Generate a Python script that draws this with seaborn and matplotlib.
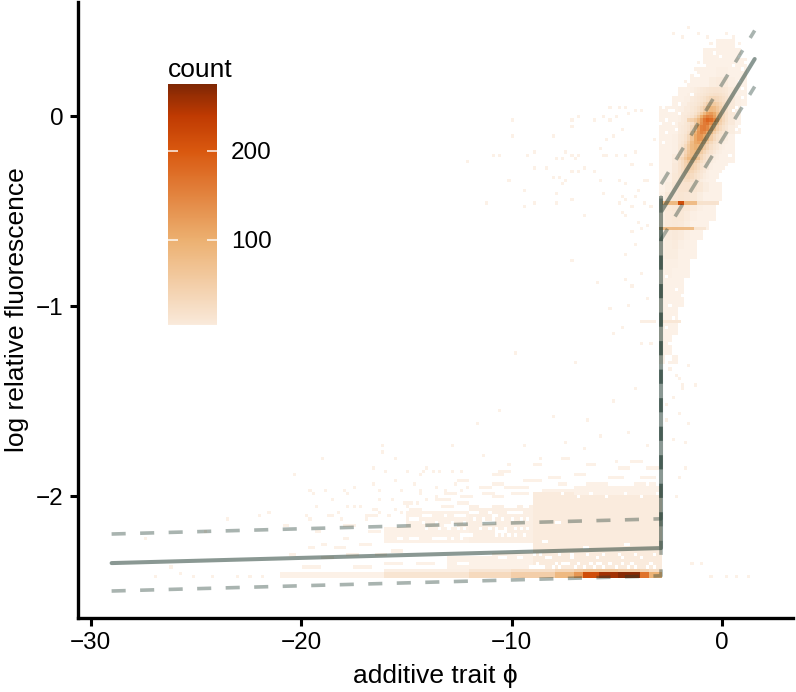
#importing the libraries
import numpy as np
import pandas as pd
import matplotlib
matplotlib.use('Agg')
import matplotlib.pyplot as plt
from matplotlib.colors import LinearSegmentedColormap
import seaborn as sns

#fitted curves
curve_phi = [-29, -2.9, -2.9, -2.9, 1.55]
curve_mid = [-2.353, -2.274, -0.43, -0.505, 0.30]
upper_phi = [-29, -2.9, -2.9, 1.55]
upper_val = [-2.20, -2.12, -0.36, 0.45]
lower_phi = [-29, -2.9, -2.9, 1.55]
lower_val = [-2.50, -2.42, -0.65, 0.155]

#binned counts around the upper arm, one row per logf step (top row first)
lobe_phi = [-3.0, -2.7, -2.4, -2.1, -1.8, -1.5, -1.2, -0.9, -0.6, -0.3, 0.0, 0.3, 0.6, 0.9, 1.2]
lobe_logf = [0.40, 0.35, 0.30, 0.25, 0.20, 0.15, 0.10, 0.05, 0.0, -0.05, -0.10, -0.15, -0.20, -0.25,
             -0.30, -0.35, -0.40, -0.45, -0.50, -0.55, -0.60, -0.65, -0.70, -0.75, -0.80, -0.85,
             -0.90, -0.95, -1.00, -1.05, -1.10, -1.15, -1.20, -1.25, -1.30]
lobe_counts = [
    [0, 0, 0, 0, 0, 0, 0, 0, 0, 1, 1, 1, 0, 0],
    [0, 0, 0, 0, 0, 0, 0, 1, 1, 1, 1, 1, 1, 0],
    [0, 0, 0, 0, 0, 0, 0, 1, 1, 2, 2, 1, 1, 1],
    [0, 0, 0, 0, 0, 0, 1, 1, 2, 3, 3, 2, 2, 1],
    [0, 0, 0, 0, 0, 1, 1, 2, 4, 5, 5, 3, 2, 1],
    [0, 0, 0, 0, 1, 1, 2, 4, 6, 7, 7, 5, 2, 1],
    [0, 0, 1, 1, 1, 2, 4, 7, 10, 12, 10, 6, 3, 1],
    [1, 1, 1, 2, 3, 6, 14, 30, 45, 40, 20, 8, 2, 0],
    [1, 1, 2, 3, 6, 14, 35, 75, 100, 70, 20, 6, 1, 0],
    [1, 1, 2, 4, 10, 30, 70, 120, 110, 60, 14, 4, 1, 0],
    [1, 1, 3, 6, 18, 50, 95, 100, 70, 30, 6, 2, 0, 0],
    [1, 2, 3, 10, 30, 70, 85, 70, 35, 14, 3, 1, 0, 0],
    [1, 2, 5, 15, 40, 65, 55, 35, 18, 6, 2, 1, 0, 0],
    [1, 2, 6, 20, 40, 40, 30, 18, 8, 3, 1, 0, 0, 0],
    [1, 3, 8, 18, 25, 22, 15, 8, 4, 2, 1, 0, 0, 0],
    [2, 4, 10, 15, 15, 12, 8, 4, 2, 1, 0, 0, 0, 0],
    [3, 6, 10, 12, 10, 8, 4, 2, 1, 1, 0, 0, 0, 0],
    [5, 8, 10, 10, 8, 5, 3, 2, 1, 0, 0, 0, 0, 0],
    [4, 6, 8, 8, 5, 3, 2, 1, 1, 0, 0, 0, 0, 0],
    [4, 6, 7, 6, 4, 2, 1, 1, 0, 0, 0, 0, 0, 0],
    [3, 5, 6, 5, 3, 1, 1, 0, 0, 0, 0, 0, 0, 0],
    [3, 4, 5, 3, 2, 1, 0, 0, 0, 0, 0, 0, 0, 0],
    [3, 4, 4, 2, 1, 1, 0, 0, 0, 0, 0, 0, 0, 0],
    [2, 3, 3, 2, 1, 0, 0, 0, 0, 0, 0, 0, 0, 0],
    [2, 3, 2, 1, 1, 0, 0, 0, 0, 0, 0, 0, 0, 0],
    [2, 2, 2, 1, 0, 0, 0, 0, 0, 0, 0, 0, 0, 0],
    [1, 2, 1, 1, 0, 0, 0, 0, 0, 0, 0, 0, 0, 0],
    [1, 1, 1, 1, 0, 0, 0, 0, 0, 0, 0, 0, 0, 0],
    [1, 1, 1, 0, 0, 0, 0, 0, 0, 0, 0, 0, 0, 0],
    [1, 1, 1, 0, 0, 0, 0, 0, 0, 0, 0, 0, 0, 0],
    [1, 1, 1, 0, 0, 0, 0, 0, 0, 0, 0, 0, 0, 0],
    [1, 1, 0, 0, 0, 0, 0, 0, 0, 0, 0, 0, 0, 0],
    [1, 1, 0, 0, 0, 0, 0, 0, 0, 0, 0, 0, 0, 0],
    [1, 0, 1, 0, 0, 0, 0, 0, 0, 0, 0, 0, 0, 0],
]

#finer reading of the hot core of the upper arm
core_phi = [-2.1, -1.95, -1.8, -1.65, -1.5, -1.35, -1.2, -1.05, -0.9, -0.75, -0.6, -0.45, -0.3, -0.15, 0.0, 0.15, 0.3]
core_logf = [0.15, 0.125, 0.10, 0.075, 0.05, 0.025, 0.0, -0.025, -0.05, -0.075, -0.10, -0.125, -0.15, -0.175, -0.20,
             -0.225, -0.25, -0.275, -0.30, -0.325, -0.35]
core_counts = [
    [1, 1, 1, 2, 3, 4, 5, 6, 8, 10, 12, 13, 13, 12, 10, 8],
    [1, 1, 2, 3, 4, 5, 6, 8, 11, 14, 18, 20, 20, 18, 14, 10],
    [1, 2, 3, 3, 5, 6, 9, 12, 18, 26, 34, 36, 32, 26, 20, 14],
    [2, 3, 3, 5, 6, 8, 12, 18, 30, 45, 56, 56, 48, 36, 25, 16],
    [3, 3, 5, 5, 8, 12, 21, 33, 50, 72, 85, 80, 62, 45, 30, 18],
    [3, 5, 5, 6, 10, 18, 33, 56, 85, 115, 125, 108, 78, 52, 32, 20],
    [3, 5, 6, 9, 15, 30, 56, 100, 135, 155, 145, 118, 82, 52, 32, 18],
    [5, 5, 8, 12, 22, 45, 88, 135, 160, 165, 140, 105, 70, 44, 26, 14],
    [5, 6, 9, 15, 33, 66, 120, 155, 160, 145, 112, 76, 46, 30, 18, 10],
    [5, 6, 10, 22, 48, 95, 130, 150, 140, 112, 80, 50, 30, 18, 12, 7],
    [6, 8, 15, 33, 66, 108, 130, 130, 110, 80, 52, 32, 19, 12, 7, 4],
    [6, 10, 21, 45, 80, 108, 115, 102, 80, 54, 33, 19, 12, 7, 4, 3],
    [8, 14, 30, 56, 84, 98, 92, 76, 54, 36, 21, 12, 7, 4, 3, 1],
    [9, 18, 38, 62, 80, 84, 70, 54, 36, 22, 13, 7, 4, 3, 1, 1],
    [12, 22, 45, 70, 76, 66, 52, 36, 22, 13, 7, 4, 3, 1, 1, 1],
    [14, 27, 45, 62, 62, 50, 37, 24, 15, 9, 4, 3, 1, 1, 1, 1],
    [15, 27, 42, 50, 47, 37, 25, 15, 9, 6, 3, 1, 1, 1, 1, 1],
    [15, 24, 36, 42, 36, 27, 18, 10, 6, 3, 1, 1, 1, 1, 0, 0],
    [14, 21, 30, 33, 27, 19, 12, 7, 4, 3, 1, 1, 1, 0, 0, 0],
    [12, 18, 24, 25, 19, 13, 9, 4, 3, 1, 1, 1, 0, 0, 0, 0],
]

#horizontal streaks added on top: logf, phi from, phi to, count
streak_logf = [-0.02, -0.215, -0.465, -0.465, -0.465, -0.585, -0.585, -1.085, -1.085]
streak_lo = [-1.7, -2.1, -2.85, -1.2, -2.05, -2.95, -1.4, -3.9, -2.85]
streak_hi = [-0.2, -1.1, -1.2, -0.2, -1.8, -1.4, -0.8, -3.1, -1.9]
streak_n = [30, 15, 75, 15, 130, 75, 10, 3, 8]

#bands along the floor of the curve
floor_lo = [-21, -16, -12, -10, -8, -7, -6.6, -5.9, -4.9, -3.9, -3.5]
floor_hi = [-16, -12, -10, -8, -7, -6.6, -5.9, -4.9, -3.9, -3.5, -2.85]
floor_n = [2, 12, 30, 50, 85, 130, 215, 255, 270, 170, 95]
floor2_n = [0, 3, 10, 20, 35, 50, 60, 60, 50, 40, 25]

#filled patches in the lower arm: phi from, phi to, logf from, logf to, count
patch_phi_lo = [-9.0, -12.0, -11.0, -14.0, -13.0, -7.0, -16.0, -15.0]
patch_phi_hi = [-2.85, -9.0, -9.0, -12.0, -11.0, -2.85, -14.0, -14.0]
patch_logf_lo = [-2.39, -2.24, -2.39, -2.24, -2.39, -1.99, -2.25, -2.16]
patch_logf_hi = [-1.98, -2.04, -2.30, -2.08, -2.31, -1.95, -2.16, -2.08]
patch_n = [5, 3, 2, 2, 2, 2, 2, 2]

#short runs of occupied cells
run_logf = [-2.38, -2.37, -2.36, -2.35, -2.38, -2.36, -2.33, -2.31, -2.30, -2.29, -2.27, -2.25, -2.23, -2.21,
            -2.19, -2.17, -2.15, -2.13, -2.11, -2.09, -2.07, -2.05, -2.03, -2.01, -1.99, -1.97,
            -2.37, -2.34, -2.31, -2.28, -2.25, -2.22, -2.19, -2.16, -2.13, -2.10, -2.07, -2.04, -1.96, -1.93, -1.88,
            -1.93, -1.93, -1.92, -1.91, -1.90, -1.90, -1.88, -1.87, -1.86, -1.85, -1.84, -1.83, -1.82, -1.80,
            -1.95, -1.96, -1.94, -1.92, -1.99, -2.01, -2.02, -1.97, -1.95, -1.98]
run_lo = [-20.0, -17.5, -16.0, -14.5, -12.5, -10.5, -19.0, -17.8, -16.5, -15.7, -18.5, -17.2, -16.0, -15.0,
          -16.8, -15.4, -18.0, -14.3, -17.0, -15.0, -14.8, -13.4, -12.6, -11.0, -10.0, -8.5,
          -13.0, -11.8, -20.5, -19.6, -19.0, -18.0, -19.3, -20.8, -21.4, -18.7, -16.6, -15.2, -6.2, -7.8, -11.0,
          -6.6, -4.2, -9.4, -5.4, -8.2, -3.9, -7.0, -10.6, -5.0, -3.6, -9.0, -6.4, -4.4, -7.6,
          -9.9, -11.6, -11.0, -12.6, -13.2, -12.4, -13.6, -8.2, -10.4, -11.4]
run_hi = [-19.1, -16.6, -15.1, -13.6, -11.6, -9.6, -18.4, -17.2, -15.9, -15.1, -17.9, -16.6, -15.4, -14.4,
          -16.2, -14.8, -17.4, -13.7, -16.4, -13.8, -14.2, -12.8, -12.0, -10.4, -9.1, -7.6,
          -12.4, -11.2, -20.2, -19.3, -18.7, -17.7, -19.0, -20.5, -21.1, -18.4, -16.3, -14.9, -5.6, -7.2, -10.4,
          -5.4, -3.2, -8.6, -4.6, -7.6, -3.1, -6.4, -10.0, -4.4, -3.0, -8.6, -6.0, -3.8, -7.2,
          -9.1, -11.0, -10.4, -12.0, -12.6, -11.8, -13.0, -7.0, -9.6, -10.8]

#gaps cleared out of the patches
gap_logf = [-2.36, -2.34, -2.33, -2.33, -2.35, -2.37, -2.26, -2.25, -2.22, -2.20, -2.19, -2.15, -2.14, -2.11, -2.09,
            -2.22, -2.20, -2.18, -2.14, -2.12, -2.10, -2.06, -2.05, -2.02, -2.00, -2.06, -2.03, -2.23, -2.11, -2.09,
            -2.32, -2.36, -2.24, -2.18, -2.14, -2.28, -2.26]
gap_lo = [-12.6, -11.8, -10.6, -9.8, -7.6, -9.2, -11.6, -10.2, -13.6, -12.4, -10.8, -13.2, -11.4, -12.8, -10.0,
          -15.6, -15.0, -14.6, -15.4, -14.8, -14.2, -11.6, -10.4, -11.0, -9.6, -9.4, -10.2, -14.8, -11.0, -12.0,
          -8.4, -6.0, -8.6, -7.2, -8.0, -6.6, -4.6]
gap_hi = [-12.0, -11.2, -10.2, -9.4, -7.2, -8.6, -11.0, -9.8, -13.0, -11.8, -10.2, -12.6, -10.8, -12.2, -9.4,
          -15.2, -14.6, -14.2, -15.0, -14.4, -14.0, -11.0, -9.8, -10.6, -9.2, -9.1, -9.8, -14.4, -10.6, -11.6,
          -8.1, -5.7, -8.3, -6.9, -7.7, -6.3, -4.3]

#single occupied cells
speck_phi = [-10.0, -10.0, -8.0, -7.2, -6.8, -7.1, -6.15, -5.7, -5.4, -5.1, -5.4, -4.9, -4.65, -4.2, -3.9, -4.45,
             -4.75, -5.25, -5.55, -3.25, -5.8, -5.7, -5.5, -5.1, -4.65, -4.2, -12.1, -10.9, -10.6, -9.24, -8.94,
             -7.4, -7.1, -6.8, -7.85, -7.55, -6.95, -8.94, -8.3, -7.1, -6.8, -6.6, -6.15, -4.35, -3.4, -10.15,
             -8.0, -7.7, -7.4, -7.55, -5.85, -4.95, -4.65, -3.6, -3.75, -9.4, -7.85, -5.7, -4.0, -4.2, -4.8,
             -4.65, -4.95, -7.1, -11.2, -8.94, -7.85, -9.4, -4.35, -3.75, -3.4, -4.8, -4.65, -6.6, -4.0, -3.6,
             -3.9, -4.35, -4.2, -4.65, -7.2, -3.9, -4.65, -6.0,
             -16.1, -12.9, -16.1, -19.0, -15.5, -20.4, -16.6, -16.0, -14.9, -14.2, -14.0, -13.7, -13.4, -12.85,
             -12.4, -15.5, -16.6, -14.3, -19.65, -19.5, -18.9, -18.0, -17.8, -17.5, -16.3, -15.2, -14.7, -14.3,
             -14.3, -13.55, -13.2, -12.75, -12.45, -12.1, -18.5, -19.3, -17.8, -17.5, -17.2, -16.3, -15.7, -14.8,
             -14.5, -14.0, -13.55, -13.0, -21.95, -21.5, -19.8, -19.65, -18.2, -18.1, -16.9, -16.25, -15.9, -15.6,
             -15.3, -15.0, -14.65, -24.6, -23.5, -26.2, -27.4, -25.8, -20.1, -11.4, -10.2, -9.4, -8.6, -7.4, -6.6,
             -5.8, -5.0, -4.4, -3.6, -11.6, -10.6, -8.0, -6.4, -5.2, -4.2, -9.8, -7.0, -4.8, -3.4, -2.2, -1.6, -2.4,
             -1.7, -2.0, -1.4, -1.0, 0.2, -0.5, 0.7, 1.2, -2.5, -2.05, -1.6, -1.85, -2.3, -2.2, -2.6, -1.3, -2.1,
             -1.75, -2.65, -2.45, -1.95, -5.4, -4.5, -3.6, -5.2, -3.9, -4.3, -2.6, -1.9, -1.1, -0.7, -2.3, -1.6,
             -23.0, -22.4, -21.9, -24.2, -25.1, -26.9,
             -2.35, -2.05, -1.75, -1.45, -1.15, -0.85, -0.55, -1.6, -1.3, 1.05, 0.75, 0.45, 0.15, 0.45, 0.15, -0.15]
speck_logf = [-0.02, -0.11, -0.11, -0.02, -0.007, -0.05, -0.02, -0.007, -0.02, -0.007, 0.05, 0.05, 0.05, 0.035, 0.035, 0.01,
              -0.065, -0.11, -0.126, -0.126, -0.17, -0.2, -0.214, -0.2, -0.214, -0.188, -0.244, -0.2, -0.214, -0.2, -0.188,
              -0.188, -0.2, -0.214, -0.23, -0.23, -0.23, -0.274, -0.274, -0.288, -0.288, -0.274, -0.288, -0.258, -0.258, -0.333,
              -0.323, -0.317, -0.347, -0.36, -0.333, -0.347, -0.36, -0.333, -0.347, -0.389, -0.407, -0.407, -0.389, -0.424, -0.42,
              -0.435, -0.45, -0.435, -0.465, -0.465, -0.465, -0.48, -0.48, -0.465, -0.48, -0.508, -0.523, -0.523, -0.565, -0.573,
              -0.59, -0.61, -0.684, -0.73, -0.758, -0.83, -0.863, -0.877,
              -1.73, -1.73, -1.775, -1.806, -1.806, -1.878, -1.85, -1.863, -1.863, -1.863, -1.855, -1.863, -1.872, -1.863,
              -1.863, -1.925, -1.939, -1.89, -1.969, -1.986, -1.969, -1.969, -1.986, -1.951, -1.969, -1.969, -1.942, -1.969,
              -1.995, -1.96, -1.977, -1.942, -1.977, -1.96, -2.025, -2.056, -2.056, -2.056, -2.056, -2.025, -2.025, -2.03,
              -2.04, -2.02, -2.004, -2.02, -2.109, -2.083, -2.105, -2.118, -2.092, -2.118, -2.113, -2.083, -2.1, -2.074,
              -2.083, -2.056, -2.074, -2.19, -2.12, -2.38, -2.23, -2.41, -2.39, -1.78, -1.84, -1.73, -1.80, -1.71, -1.76,
              -1.69, -1.82, -1.67, -1.74, -1.62, -1.55, -1.58, -1.6, -1.5, -1.44, -1.25, -1.3, -1.12, -1.2, -2.0, -1.62, -1.7,
              -1.85, -1.9, -2.35, -2.36, -2.43, -2.42, -2.43, -2.42, -1.34, -1.38, -1.31, -1.43, -1.48, -1.36, -1.52, -1.41, -1.57,
              -1.72, -1.6, -1.3, -1.41, -1.02, -1.0, -0.96, -1.15, -1.2, -0.9, -0.03, 0.42, 0.44, 0.41, 0.43, 0.46,
              -2.42, -2.42, -2.42, -2.42, -2.42, -2.42,
              0.08, 0.12, 0.18, 0.22, 0.28, 0.33, 0.38, 0.16, 0.25, 0.19, 0.38, 0.42, 0.44, -0.17, -0.22, -0.27]

#empty cells inside the filled patches
hole_phi = [-8.5, -8.1, -7.7, -7.0, -6.6, -6.1, -5.6, -5.0, -4.5, -4.1, -3.6, -3.2, -8.8, -7.9, -7.4, -6.8, -6.3, -5.3, -4.8, -4.3,
            -3.4, -8.3, -7.1, -5.9, -4.7, -3.9, -8.9, -8.6, -7.8, -7.2, -6.4, -5.7, -4.9, -4.2, -3.3, -10.8, -10.5, -10.1, -9.8,
            -9.4, -11.5, -11.1, -10.7, -10.3, -9.9, -9.5, -9.2, -11.8, -11.3, -10.9, -10.4, -10.0, -9.6, -9.3, -11.7, -11.0, -10.2,
            -13.8, -13.3, -12.9, -12.4, -14.1, -13.5, -13.0, -12.6, -12.2, -14.2, -13.6, -12.8, -12.3, -13.9, -13.1, -12.5,
            -7.6, -6.9, -6.2, -5.5, -4.6, -3.8, -3.1, -8.4, -7.3, -6.5, -5.1, -4.4, -3.5, -0.15, 0.5, 1.0, -1.4, -2.3, -2.0, -1.1, -0.9, -0.4,
            -2.6, -2.2, -1.9, -2.5, -1.8, -2.4, -2.7, -2.1, -2.55, -1.95,
            -2.8, -2.5, -2.7, -2.3, -2.9, -2.6, -2.0, -2.75, -2.2, 0.9, 0.6, 0.95, 0.65, 0.35, 0.75, 0.2, 0.8, 0.5, 0.05, 1.1, 0.85]
hole_logf = [-2.37, -2.37, -2.37, -2.37, -2.37, -2.37, -2.37, -2.37, -2.37, -2.37, -2.37, -2.37, -2.35, -2.35, -2.35, -2.35, -2.35, -2.35, -2.35, -2.35,
             -2.35, -2.33, -2.33, -2.33, -2.33, -2.33, -2.31, -2.31, -2.31, -2.31, -2.31, -2.31, -2.31, -2.31, -2.31, -2.21, -2.21, -2.21, -2.21,
             -2.21, -2.17, -2.17, -2.17, -2.17, -2.17, -2.17, -2.17, -2.12, -2.12, -2.12, -2.12, -2.12, -2.12, -2.12, -2.08, -2.08, -2.08,
             -2.22, -2.22, -2.22, -2.22, -2.18, -2.18, -2.18, -2.18, -2.18, -2.13, -2.13, -2.13, -2.13, -2.10, -2.10, -2.10,
             -1.99, -2.0, -1.99, -2.01, -1.99, -2.0, -1.99, -1.93, -1.93, -1.94, -1.93, -1.94, -1.93, 0.31, 0.27, 0.24, 0.11, 0.03, 0.06, 0.22, 0.27, 0.33,
             -0.85, -0.92, -0.95, -1.0, -1.0, -1.06, -1.12, -1.15, -1.2, -1.16,
             0.04, 0.03, -0.02, -0.03, -0.04, -0.09, 0.01, -0.14, -0.07, 0.10, 0.05, 0.14, -0.08, -0.2, -0.05, -0.28, 0.18, 0.03, -0.32, 0.28, 0.32]

#colour scale
scale_points = [1, 5, 100, 200, 240, 275]
scale_colors = ['#FCF1E7', '#F9E9DA', '#ECB070', '#D9580F', '#BF3A02', '#7F2704']
bar_ticks = [100, 200]

#spreading the table values over the fine count grid
phi_edges = np.arange(-30, 3.01, 0.15)
logf_edges = np.arange(-2.6, 0.6, 0.0168)
phi_mid = (phi_edges[:-1] + phi_edges[1:]) / 2
logf_mid = (logf_edges[:-1] + logf_edges[1:]) / 2
grid = np.zeros((len(phi_mid), len(logf_mid)))


def block(lo, hi, ylo, yhi):
    ix = np.where((phi_mid >= lo) & (phi_mid < hi))[0]
    iy = np.where((logf_mid >= ylo) & (logf_mid < yhi))[0]
    return np.ix_(ix, iy)


def cell(phi, logf):
    return np.abs(phi_mid - phi).argmin(), np.abs(logf_mid - logf).argmin()


for r in range(len(lobe_counts)):
    for c in range(len(lobe_counts[r])):
        if lobe_counts[r][c] > 0:
            grid[block(lobe_phi[c], lobe_phi[c + 1], lobe_logf[r + 1], lobe_logf[r])] = lobe_counts[r][c]
for i in range(len(speck_phi)):
    grid[cell(speck_phi[i], speck_logf[i])] = 1
for r in range(len(core_counts)):
    for c in range(len(core_counts[r])):
        grid[block(core_phi[c], core_phi[c + 1], core_logf[r + 1], core_logf[r])] = core_counts[r][c]
for i in range(len(patch_n)):
    grid[block(patch_phi_lo[i], patch_phi_hi[i], patch_logf_lo[i], patch_logf_hi[i])] = patch_n[i]
for i in range(len(gap_logf)):
    grid[block(gap_lo[i], gap_hi[i], gap_logf[i] - 0.008, gap_logf[i] + 0.008)] = 0
for i in range(len(run_logf)):
    grid[block(run_lo[i], run_hi[i], run_logf[i] - 0.008, run_logf[i] + 0.008)] = 2
for i in range(len(hole_phi)):
    grid[cell(hole_phi[i], hole_logf[i])] = 0
for i in range(len(floor_n)):
    grid[block(floor_lo[i], floor_hi[i], -2.436, -2.405)] = floor_n[i]
    grid[block(floor_lo[i], floor_hi[i], -2.405, -2.388)] = floor2_n[i]
for i in range(len(streak_n)):
    grid[block(streak_lo[i], streak_hi[i], streak_logf[i] - 0.008, streak_logf[i] + 0.008)] += streak_n[i]

ix, iy = np.nonzero(grid)
cells = pd.DataFrame({'phi': phi_mid[ix], 'logf': logf_mid[iy], 'count': grid[ix, iy]})

#the plot
sns.set_theme(style='ticks')
plt.rcParams['font.family'] = ['Liberation Sans', 'DejaVu Sans']
plt.rcParams['text.color'] = 'black'
plt.rcParams['axes.labelcolor'] = 'black'
cmap = LinearSegmentedColormap.from_list(
    'count', [((p - 1) / 274, col) for p, col in zip(scale_points, scale_colors)])

fig = plt.figure(figsize=(7.96, 6.92), dpi=100)
ax = fig.add_axes([77.5 / 796, (692 - 618) / 692, (793 - 77.5) / 796, (618 - 2) / 692])

sns.histplot(data=cells, x='phi', y='logf', weights='count', bins=[phi_edges, logf_edges],
             cmap=cmap, vmin=1, vmax=275, ax=ax)
mesh = ax.collections[0]

line_col = '#1f3a30'
sns.lineplot(x=curve_phi, y=curve_mid, sort=False, estimator=None, color=line_col, alpha=0.52,
             linewidth=2.9, ax=ax)
for xs, ys in [(upper_phi, upper_val), (lower_phi, lower_val)]:
    sns.lineplot(x=xs, y=ys, sort=False, estimator=None, color=line_col, alpha=0.38,
                 linewidth=2.6, linestyle=(0, (3.9, 4.0)), ax=ax)

ax.set_xlim(-30.62, 3.37)
ax.set_ylim(-2.642, 0.6)
ax.set_xticks([-30, -20, -10, 0])
ax.set_xticklabels(['\u221230', '\u221220', '\u221210', '0'])
ax.set_yticks([-2, -1, 0])
ax.set_yticklabels(['\u22122', '\u22121', '0'])
ax.set_xlabel('additive trait \u03d5', fontsize=19, labelpad=7)
ax.set_ylabel('log relative fluorescence', fontsize=19, labelpad=5)
ax.tick_params(width=2.2, length=6, labelsize=17.5, color='black', labelcolor='black', pad=4)
sns.despine(ax=ax)
for side in ['left', 'bottom']:
    ax.spines[side].set_linewidth(2.4)
    ax.spines[side].set_color('black')

#colour bar inside the plot
cax = fig.add_axes([168 / 796, (692 - 325) / 692, 49 / 796, 241 / 692])
bar = fig.colorbar(mesh, cax=cax, ticks=bar_ticks)
bar.outline.set_visible(False)
cax.set_ylim(4.5, 275)
cax.tick_params(length=0, labelsize=17.5, pad=10, labelcolor='black')
cax.hlines(bar_ticks, 0, 0.2, color='white', linewidth=1.2, alpha=0.85, transform=cax.get_yaxis_transform())
cax.hlines(bar_ticks, 0.8, 1, color='white', linewidth=1.2, alpha=0.85, transform=cax.get_yaxis_transform())
cax.set_title('count', loc='left', fontsize=19, pad=5, color='black')

plt.savefig('out.png', dpi=100)
